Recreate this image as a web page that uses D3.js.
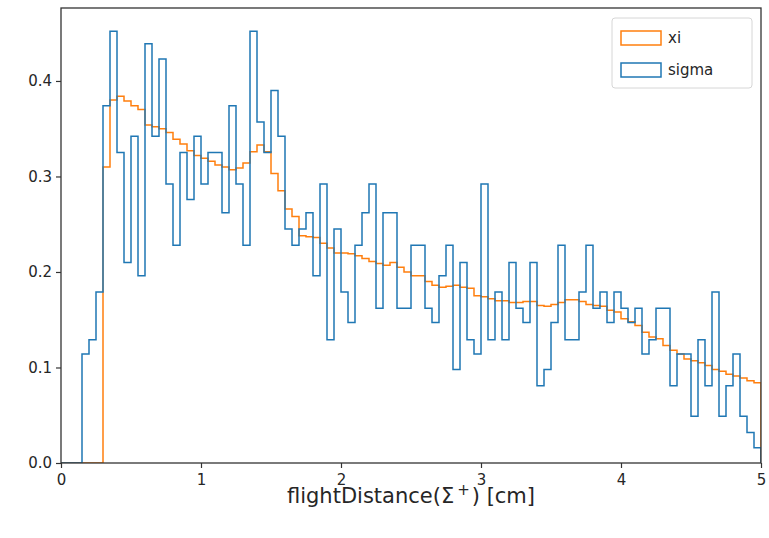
<!DOCTYPE html>
<html>
<head>
<meta charset="utf-8">
<script src="https://cdn.jsdelivr.net/npm/d3@7"></script>
<style>
  body { margin: 0; background: #fff; }
  text { font-family: "DejaVu Sans", sans-serif; fill: #262626; }
</style>
</head>
<body>
<div id="chart"></div>
<script>
// bins: 100 bins of width 0.05 over [0, 5]
const BIN_START = 0;
const BIN_WIDTH = 0.05;

// normalised histogram heights
const xiValues = [
  0, 0, 0, 0, 0, 0, 0.310, 0.380, 0.384, 0.379,
  0.374, 0.370, 0.354, 0.352, 0.350, 0.346, 0.339, 0.334, 0.327, 0.322,
  0.319, 0.316, 0.312, 0.310, 0.307, 0.309, 0.314, 0.326, 0.333, 0.326,
  0.303, 0.285, 0.266, 0.258, 0.238, 0.237, 0.236, 0.230, 0.225, 0.220,
  0.220, 0.219, 0.217, 0.214, 0.211, 0.209, 0.207, 0.210, 0.205, 0.200,
  0.196, 0.196, 0.190, 0.186, 0.184, 0.185, 0.186, 0.184, 0.183, 0.175,
  0.174, 0.172, 0.170, 0.170, 0.168, 0.168, 0.169, 0.169, 0.165, 0.164,
  0.166, 0.168, 0.171, 0.171, 0.169, 0.166, 0.165, 0.164, 0.160, 0.158,
  0.151, 0.148, 0.144, 0.137, 0.132, 0.130, 0.123, 0.118, 0.114, 0.109,
  0.107, 0.105, 0.102, 0.098, 0.096, 0.093, 0.091, 0.089, 0.086, 0.084
];

const sigmaValues = [
  0, 0, 0, 0.114, 0.129, 0.179, 0.374, 0.452, 0.325, 0.210,
  0.342, 0.196, 0.439, 0.342, 0.423, 0.292, 0.228, 0.325, 0.276, 0.342,
  0.292, 0.325, 0.325, 0.262, 0.374, 0.292, 0.228, 0.452, 0.357, 0.325,
  0.390, 0.342, 0.245, 0.228, 0.245, 0.262, 0.196, 0.292, 0.129, 0.245,
  0.179, 0.147, 0.228, 0.262, 0.292, 0.162, 0.262, 0.262, 0.162, 0.162,
  0.228, 0.228, 0.162, 0.147, 0.196, 0.228, 0.098, 0.210, 0.129, 0.114,
  0.292, 0.129, 0.179, 0.129, 0.210, 0.162, 0.147, 0.210, 0.081, 0.098,
  0.147, 0.228, 0.129, 0.129, 0.179, 0.228, 0.162, 0.179, 0.147, 0.179,
  0.162, 0.147, 0.162, 0.114, 0.129, 0.162, 0.162, 0.081, 0.114, 0.114,
  0.049, 0.129, 0.081, 0.179, 0.049, 0.081, 0.114, 0.049, 0.032, 0.016
];

const xTicks = [0, 1, 2, 3, 4, 5];
const yTicks = [0.0, 0.1, 0.2, 0.3, 0.4];

const SERIES = [
  { name: "xi",    color: "#ff7f0e", values: xiValues },
  { name: "sigma", color: "#1f77b4", values: sigmaValues }
];

const width = 769, height = 538;
const m = { top: 8, right: 8, bottom: 75, left: 61 };

const svg = d3.select("#chart").append("svg")
  .attr("width", width)
  .attr("height", height);

svg.append("rect").attr("width", width).attr("height", height).attr("fill", "#fff");

const x = d3.scaleLinear().domain([0, 5]).range([m.left, width - m.right]);
const y = d3.scaleLinear().domain([0, 0.4764]).range([height - m.bottom, m.top]);

svg.append("clipPath").attr("id", "plot-clip")
  .append("rect")
  .attr("x", m.left).attr("y", m.top)
  .attr("width", width - m.left - m.right)
  .attr("height", height - m.top - m.bottom);

// step outline like histtype='step'
function stepPoints(values) {
  const pts = [[BIN_START, 0]];
  values.forEach((v, i) => {
    const x0 = BIN_START + i * BIN_WIDTH;
    pts.push([x0, v], [x0 + BIN_WIDTH, v]);
  });
  pts.push([BIN_START + values.length * BIN_WIDTH, 0]);
  return pts;
}

const line = d3.line().x(d => x(d[0])).y(d => y(d[1]));

const g = svg.append("g").attr("clip-path", "url(#plot-clip)");
SERIES.forEach(s => {
  g.append("path")
    .datum(stepPoints(s.values))
    .attr("fill", "none")
    .attr("stroke", s.color)
    .attr("stroke-width", 1.5)
    .attr("d", line);
});

// axes
const xAxis = svg.append("g")
  .attr("transform", `translate(0,${height - m.bottom})`)
  .call(d3.axisBottom(x).tickValues(xTicks).tickFormat(d3.format("d"))
    .tickSize(5).tickPadding(6).tickSizeOuter(0));

const yAxis = svg.append("g")
  .attr("transform", `translate(${m.left},0)`)
  .call(d3.axisLeft(y).tickValues(yTicks).tickFormat(d3.format(".1f"))
    .tickSize(5).tickPadding(4).tickSizeOuter(0));

[xAxis, yAxis].forEach(a => {
  a.select(".domain").remove();
  a.selectAll(".tick line").attr("stroke", "#333").attr("stroke-width", 1.2);
  a.selectAll(".tick text")
    .attr("font-family", "DejaVu Sans, sans-serif")
    .attr("font-size", 15)
    .attr("fill", "#262626");
});

// frame
svg.append("rect")
  .attr("x", m.left).attr("y", m.top)
  .attr("width", width - m.left - m.right)
  .attr("height", height - m.top - m.bottom)
  .attr("fill", "none")
  .attr("stroke", "#333")
  .attr("stroke-width", 1.3);

// x label (Σ with a superscript +)
const xl = svg.append("text")
  .attr("x", (m.left + width - m.right) / 2)
  .attr("y", 503)
  .attr("text-anchor", "middle")
  .attr("font-size", 21);
xl.append("tspan").text("flightDistance(Σ");
xl.append("tspan").attr("dx", 3).attr("dy", -8).attr("font-size", 15).text("+");
xl.append("tspan").attr("dx", 2).attr("dy", 8).text(") [cm]");

// legend
const lg = svg.append("g").attr("transform", "translate(612,18)");
lg.append("rect")
  .attr("width", 140).attr("height", 70).attr("rx", 3)
  .attr("fill", "#fff").attr("fill-opacity", 0.8)
  .attr("stroke", "#d6d6d6");

SERIES.forEach((s, i) => {
  const row = lg.append("g").attr("transform", `translate(9,${13 + i * 32})`);
  row.append("rect")
    .attr("width", 40).attr("height", 14)
    .attr("fill", "none")
    .attr("stroke", s.color)
    .attr("stroke-width", 1.5);
  row.append("text")
    .attr("x", 47).attr("y", 12)
    .attr("font-size", 15)
    .text(s.name);
});
</script>
</body>
</html>
